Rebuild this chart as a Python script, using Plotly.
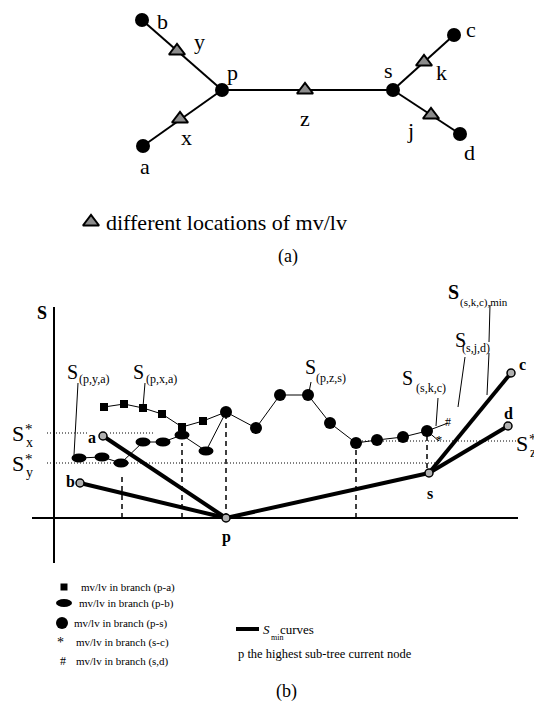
import plotly.graph_objects as go

# ---------------- (a) tree data ----------------
node_names = ['a', 'b', 'p', 's', 'c', 'd']
node_x = [143, 142, 222, 393, 454, 460]
node_y = [146, 20, 90, 90, 35, 134]
tree_edges = [('b', 'p'), ('a', 'p'), ('p', 's'), ('s', 'c'), ('s', 'd')]
loc_names = ['x', 'y', 'z', 'k', 'j']
loc_x = [180, 177, 305, 424, 431]
loc_y = [119, 51, 90, 62, 115]

# ---------------- (b) chart data ----------------
pa_x = [50, 70, 89, 108, 128, 149]            # mv/lv in branch (p-a)
pa_S = [111, 114, 110, 104, 91, 97]
pb_x = [25, 48, 67, 89, 109, 128, 152]        # mv/lv in branch (p-b)
pb_S = [60, 61, 55, 76, 76, 83, 67]
ps_x = [172, 202, 226, 254, 276, 302, 323, 349, 373]   # branch (p-s)
ps_S = [106, 90, 123, 123, 95, 75, 78, 81, 87]
sc_x, sc_S = [385], [77]                      # branch (s-c)
sd_x, sd_S = [394], [95]                      # branch (s,d)
bnode_names = ['a', 'b', 'p', 's', 'c', 'd']
bnode_x = [49, 26, 172, 375, 457, 454]
bnode_S = [82, 35, 0, 45, 145, 92]
smin_edges = [('a', 'p'), ('b', 'p'), ('p', 's'), ('s', 'c'), ('s', 'd')]
star_levels = {'x': 85, 'y': 55, 'z': 77}
drop_x = [68, 128, 172, 302, 373]
drop_lo = [0, 0, 0, 0, 50]
drop_hi = [41, 75, 105, 70, 83]

FONT = "Liberation Serif"
fig = go.Figure()
ann = []


def P(xp, yp):
    return xp - 54, 518 - yp


def T(x, y, text, size, ref='a', bold=False, xanchor='center', italic=False):
    if bold:
        text = '<b>' + text + '</b>'
    if italic:
        text = '<i>' + text + '</i>'
    xr, yr = ('x', 'y') if ref == 'a' else ('x2', 'y2')
    if ref == 'px':
        x, y = P(x, y)
    ann.append(dict(x=x, y=y, xref=xr, yref=yr, text=text, showarrow=False,
                    xanchor=xanchor, yanchor='middle',
                    font=dict(size=size, family=FONT, color='black')))


def line(xs, ys, width=1, dash=None, ref='b'):
    fig.add_trace(go.Scatter(x=xs, y=ys, mode='lines',
                             line=dict(color='black', width=width, dash=dash),
                             xaxis='x' if ref == 'a' else 'x2',
                             yaxis='y' if ref == 'a' else 'y2',
                             hoverinfo='skip', showlegend=False))


# ---------------- (a) ----------------
ni = {n: i for i, n in enumerate(node_names)}
for u, v in tree_edges:
    line([node_x[ni[u]], node_x[ni[v]]], [node_y[ni[u]], node_y[ni[v]]], width=2, ref='a')
fig.add_trace(go.Scatter(x=node_x, y=node_y, mode='markers', xaxis='x', yaxis='y',
                         marker=dict(size=14, color='black'), showlegend=False, hoverinfo='skip'))
fig.add_trace(go.Scatter(x=loc_x, y=loc_y, mode='markers', xaxis='x', yaxis='y',
                         marker=dict(size=14, symbol='triangle-up', color='#8c8c8c',
                                     line=dict(color='black', width=2)),
                         showlegend=False, hoverinfo='skip'))
tree_lab = {'b': (162, 21), 'p': (232, 72), 'a': (145, 166), 's': (388, 70),
            'c': (471, 29), 'd': (469, 152),
            'y': (199, 41), 'x': (186, 137), 'z': (305, 118), 'k': (441, 72), 'j': (410, 130)}
for k, (lx, ly) in tree_lab.items():
    T(lx, ly, k, 22)
fig.add_trace(go.Scatter(x=[91], y=[222], mode='markers', xaxis='x', yaxis='y',
                         marker=dict(size=14, symbol='triangle-up', color='#8c8c8c',
                                     line=dict(color='black', width=2)),
                         showlegend=False, hoverinfo='skip'))
T(104, 222, 'different locations of mv/lv', 22, xanchor='left')
T(288, 256, '(a)', 18)

# ---------------- (b) ----------------
# axes
line([-22, 464], [0, 0], width=2)
line([0, 0], [-45, 211], width=2)
# reference dotted levels
dot = '1px,2px'
line([-7, 34], [star_levels['x']] * 2, 1, dot)
line([56, 100], [star_levels['x']] * 2, 1, dot)
line([-7, 386], [star_levels['y']] * 2, 1, dot)
line([302, 463], [star_levels['z']] * 2, 1, dot)
# vertical dashed drops
for dx, lo, hi in zip(drop_x, drop_lo, drop_hi):
    line([dx, dx], [lo, hi], 1.5, '5px,4px')
# leader lines
leaders = [((24, 135), (20, 63)), ((91, 135), (89, 111)), ((257, 136), (255, 126)),
           ((384, 120), (382, 92)), ((411, 161), (404, 111)),
           ((436, 213), (435, 176)), ((435, 165), (433, 123))]
for (x0, y0), (x1, y1) in leaders:
    line([x0, x1], [y0, y1], 1)
# series lines
line(pa_x + [ps_x[0]], pa_S + [ps_S[0]], 1)
line(pb_x + [ps_x[0]], pb_S + [ps_S[0]], 1)
line(ps_x, ps_S, 1)
line([ps_x[-1], sd_x[0]], [ps_S[-1], sd_S[0]], 1)
line([ps_x[-1], sc_x[0]], [ps_S[-1], sc_S[0]], 1)
# S_min thick lines
bi = {n: i for i, n in enumerate(bnode_names)}
for u, v in smin_edges:
    line([bnode_x[bi[u]], bnode_x[bi[v]]], [bnode_S[bi[u]], bnode_S[bi[v]]], 4)
# markers
fig.add_trace(go.Scatter(x=pa_x, y=pa_S, mode='markers', xaxis='x2', yaxis='y2',
                         marker=dict(symbol='square', size=8, color='black'),
                         showlegend=False, hoverinfo='skip'))
shapes = []
for ex, es in zip(pb_x, pb_S):
    shapes.append(dict(type='circle', xref='x2', yref='y2', x0=ex - 7.5, x1=ex + 7.5,
                       y0=es - 4.5, y1=es + 4.5, fillcolor='black', line=dict(width=0)))
fig.add_trace(go.Scatter(x=ps_x, y=ps_S, mode='markers', xaxis='x2', yaxis='y2',
                         marker=dict(size=12, color='black'),
                         showlegend=False, hoverinfo='skip'))
fig.add_trace(go.Scatter(x=sc_x, y=sc_S, mode='text', text=['*'], xaxis='x2', yaxis='y2',
                         textfont=dict(size=13, family=FONT, color='black'),
                         showlegend=False, hoverinfo='skip'))
fig.add_trace(go.Scatter(x=sd_x, y=sd_S, mode='text', text=['#'], xaxis='x2', yaxis='y2',
                         textfont=dict(size=12, family=FONT, color='black'),
                         showlegend=False, hoverinfo='skip'))
fig.add_trace(go.Scatter(x=bnode_x, y=bnode_S, mode='markers', xaxis='x2', yaxis='y2',
                         marker=dict(size=8, color='#b0b0b0', line=dict(color='black', width=1.5)),
                         showlegend=False, hoverinfo='skip'))

# labels in (b)
T(42, 313, 'S', 18, 'px', bold=True)
for lab, sx, sub_x, sy, sub_y in [
        ('(p,y,a)', 72, 94, 372, 379), ('(p,x,a)', 138, 161, 372, 379),
        ('(p,z,s)', 310, 331, 367, 378), ('(s,k,c)', 407, 431, 378, 388),
        ('(s,j,d)', 460, 476, 340, 348)]:
    T(sx, sy, 'S', 20, 'px')
    T(sub_x, sub_y, lab, 12, 'px')
T(453, 292, 'S', 20, 'px', bold=True)
T(484, 302, '(s,k,c),min', 11, 'px')
for name, (sx, sy) in {'x': (18, 433), 'y': (18, 463), 'z': (522, 443)}.items():
    T(sx, sy, 'S', 22, 'px')
    T(sx + 11, sy - 4, '*', 15, 'px')
    T(sx + 11, sy + 9, name, 14, 'px')
for name, (lx, ly) in {'a': (92, 437), 'b': (70, 481), 'p': (226, 537), 's': (430, 493),
                       'c': (522, 364), 'd': (508, 413)}.items():
    T(lx, ly, name, 16, 'px', bold=True)

# legend of (b)
leg_y = [587, 603, 623, 642, 661]
leg_txt = ['mv/lv in branch (p-a)', 'mv/lv in branch (p-b)', 'mv/lv in branch (p-s)',
           'mv/lv in branch (s-c)', 'mv/lv in branch (s,d)']
leg_tx = [79, 77, 72, 74, 74]
x0, y0 = P(64, leg_y[0])
fig.add_trace(go.Scatter(x=[x0], y=[y0], mode='markers', xaxis='x2', yaxis='y2',
                         marker=dict(symbol='square', size=7, color='black'),
                         showlegend=False, hoverinfo='skip'))
x1, y1 = P(64, leg_y[1])
shapes.append(dict(type='circle', xref='x2', yref='y2', x0=x1 - 8, x1=x1 + 8,
                   y0=y1 - 4, y1=y1 + 4, fillcolor='black', line=dict(width=0)))
x2, y2 = P(62, leg_y[2])
fig.add_trace(go.Scatter(x=[x2], y=[y2], mode='markers', xaxis='x2', yaxis='y2',
                         marker=dict(size=12, color='black'),
                         showlegend=False, hoverinfo='skip'))
T(60, leg_y[3], '*', 14, 'px')
T(63, leg_y[4], '#', 12, 'px')
for t, tx, ty in zip(leg_txt, leg_tx, leg_y):
    T(tx, ty, t, 11, 'px', xanchor='left')
lx0, ly0 = P(236, 629)
lx1, _ = P(259, 629)
line([lx0, lx1], [ly0, ly0], 4)
T(261, 629, 'S', 13, 'px', xanchor='left', italic=True)
T(269, 637, 'min', 8, 'px', xanchor='left')
T(278, 629, 'curves', 13, 'px', xanchor='left')
T(236, 654, 'p the highest sub-tree current node', 12.5, 'px', xanchor='left')
T(286, 691, '(b)', 18, 'px')

# The page body keeps an 8px margin, so the figure is 8px smaller and the
# axis ranges start 8 units in, keeping every item at its reference pixel.
OFF = 8
ax = dict(visible=False, showgrid=False, zeroline=False, fixedrange=True)
fig.update_layout(
    width=542 - OFF, height=702 - OFF, margin=dict(l=0, r=0, t=0, b=0),
    paper_bgcolor='white', plot_bgcolor='white',
    font=dict(family=FONT, color='black'),
    xaxis=dict(range=[OFF, 542], domain=[0, 1], **ax),
    yaxis=dict(range=[702, OFF], domain=[0, 1], **ax),
    xaxis2=dict(range=[-54 + OFF, 488], domain=[0, 1], overlaying='x', anchor='y2', **ax),
    yaxis2=dict(range=[-184, 518 - OFF], domain=[0, 1], overlaying='y', anchor='x2', **ax),
    annotations=ann, shapes=shapes, showlegend=False,
)
fig.write_html("out.html")
